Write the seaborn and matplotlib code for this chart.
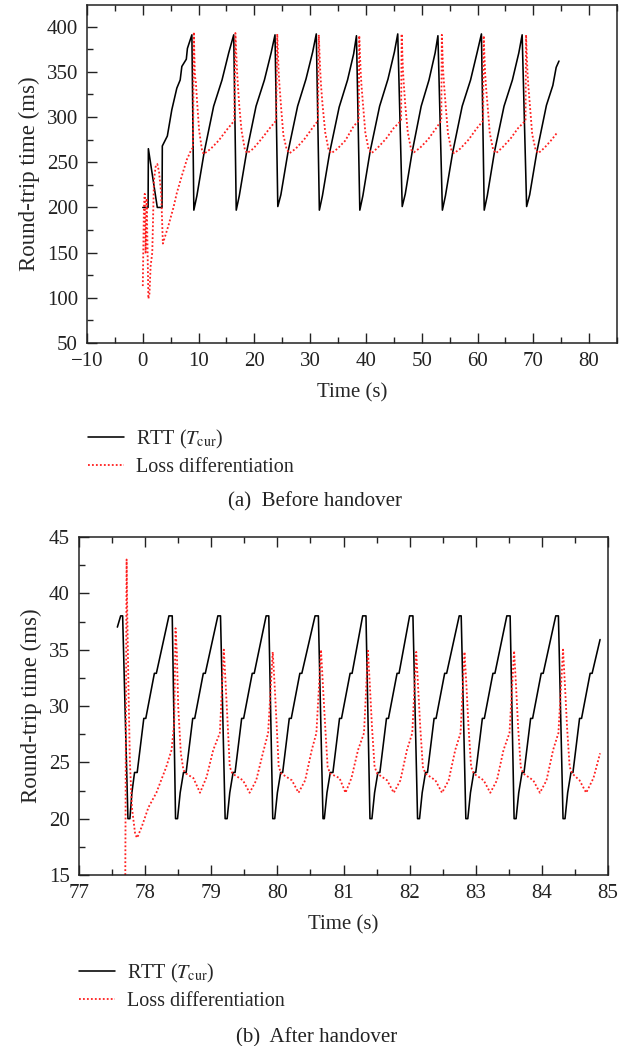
import matplotlib
matplotlib.use("Agg")
import matplotlib.pyplot as plt
from matplotlib.ticker import MultipleLocator
import seaborn as sns

# ---------------- (a) Before handover ----------------
top_rtt_t = [0.0, 0.95, 1.0, 2.6, 3.45, 3.5, 4.4, 5.2, 6.1, 6.7, 7.0, 7.8, 8.0, 8.8, 9.15,
             9.7, 11.0, 12.7, 14.2, 15.4, 16.3, 16.75,
             17.3, 18.6, 20.3, 21.8, 23.0, 23.7, 24.2,
             24.75, 26.05, 27.75, 29.25, 30.45, 31.1, 31.65,
             32.2, 33.5, 35.2, 36.7, 37.8, 38.3, 38.9,
             39.45, 40.75, 42.45, 43.95, 45.1, 45.7, 46.5,
             47.05, 48.3, 49.9, 51.3, 52.4, 52.9, 53.7,
             54.25, 55.55, 57.25, 58.75, 59.95, 60.7, 61.2,
             61.75, 63.05, 64.75, 66.25, 67.4, 68.0, 68.8,
             69.35, 70.65, 72.35, 73.5, 74.1, 74.6]
top_rtt_v = [200, 200, 265, 200, 200, 268, 279, 308, 332, 341, 356, 364, 376, 391, 197,
             213, 261, 312, 341, 371, 391, 197,
             213, 261, 312, 341, 371, 391, 201,
             214, 262, 312, 342, 372, 392, 197,
             213, 261, 311, 341, 370, 390, 197,
             213, 262, 312, 342, 372, 392, 201,
             215, 262, 312, 341, 371, 390, 197,
             213, 261, 312, 341, 372, 392, 197,
             213, 262, 312, 341, 371, 391, 201,
             214, 262, 313, 335, 355, 362]

top_loss_t = [0.0, 0.2, 0.35, 0.5, 0.7, 1.0, 1.2, 1.4, 1.7, 2.0, 2.3, 2.6, 2.9, 3.3, 3.6, 4.0,
              4.6, 5.5, 6.1, 7.0, 7.9, 8.7, 9.0,
              9.15, 9.35, 9.5, 9.7, 10.1, 10.6, 10.9, 12.2, 13.6, 15.2, 16.4,
              16.6, 16.9, 17.05, 17.3, 17.7, 18.3, 18.7, 19.8, 21.3, 22.8, 23.9,
              24.1, 24.35, 24.5, 24.8, 25.2, 25.8, 26.3, 27.4, 28.9, 30.3, 31.4,
              31.55, 31.8, 31.95, 32.2, 32.7, 33.3, 33.8, 34.9, 36.3, 37.8, 38.7,
              38.8, 39.05, 39.2, 39.5, 39.9, 40.5, 41.0, 42.1, 43.6, 45.0, 46.3,
              46.4, 46.65, 46.8, 47.05, 47.5, 48.1, 48.6, 49.7, 51.1, 52.5, 53.5,
              53.6, 53.85, 54.0, 54.3, 54.7, 55.3, 55.8, 56.9, 58.4, 59.8, 61.0,
              61.1, 61.35, 61.5, 61.8, 62.2, 62.8, 63.3, 64.4, 65.9, 67.3, 68.6,
              68.7, 68.95, 69.1, 69.4, 69.8, 70.4, 70.9, 72.0, 73.3, 74.3]
top_loss_v = [113, 200, 215, 150, 210, 99, 105, 135, 150, 230, 245, 248, 240, 215, 160, 168,
              180, 200, 216, 235, 253, 264, 266,
              394, 345, 340, 320, 285, 264, 259, 265, 274, 287, 296,
              393, 350, 335, 312, 285, 264, 260, 265, 276, 288, 296,
              392, 350, 335, 310, 280, 264, 260, 265, 275, 287, 296,
              391, 352, 335, 315, 283, 264, 260, 265, 274, 290, 296,
              390, 350, 335, 312, 282, 264, 260, 266, 276, 288, 296,
              392, 350, 335, 313, 283, 264, 261, 266, 275, 287, 296,
              391, 350, 336, 312, 282, 264, 260, 265, 275, 287, 296,
              390, 350, 335, 313, 282, 264, 260, 266, 276, 288, 296,
              391, 350, 335, 312, 281, 264, 260, 266, 275, 283]

# ---------------- (b) After handover ----------------
bot_rtt_t = [77.58, 77.63, 77.66,
             77.74, 77.77, 77.80, 77.84, 77.88, 77.98, 78.01, 78.14, 78.17, 78.36, 78.41,
             78.46, 78.49, 78.53, 78.58, 78.62, 78.72, 78.75, 78.88, 78.91, 79.10, 79.14,
             79.21, 79.24, 79.28, 79.33, 79.36, 79.46, 79.49, 79.62, 79.65, 79.83, 79.87,
             79.93, 79.96, 80.00, 80.05, 80.08, 80.18, 80.21, 80.34, 80.37, 80.57, 80.62,
             80.69, 80.71, 80.75, 80.80, 80.84, 80.94, 80.97, 81.10, 81.13, 81.29, 81.34,
             81.40, 81.43, 81.47, 81.52, 81.55, 81.65, 81.68, 81.81, 81.84, 82.00, 82.05,
             82.12, 82.15, 82.19, 82.24, 82.27, 82.37, 82.40, 82.53, 82.56, 82.75, 82.78,
             82.85, 82.88, 82.92, 82.97, 83.00, 83.10, 83.13, 83.26, 83.29, 83.47, 83.52,
             83.58, 83.61, 83.65, 83.70, 83.73, 83.83, 83.86, 83.99, 84.02, 84.21, 84.25,
             84.32, 84.35, 84.39, 84.44, 84.47, 84.57, 84.60, 84.73, 84.76, 84.88]
bot_rtt_v = [37.0, 38.0, 38.0,
             20.0, 20.0, 22.3, 24.1, 24.1, 28.9, 28.9, 32.9, 32.9, 38.0, 38.0,
             20.0, 20.0, 22.3, 24.1, 24.1, 28.9, 28.9, 32.9, 32.9, 38.0, 38.0,
             20.0, 20.0, 22.3, 24.1, 24.1, 28.9, 28.9, 32.9, 32.9, 38.0, 38.0,
             20.0, 20.0, 22.3, 24.1, 24.1, 28.9, 28.9, 32.9, 32.9, 38.0, 38.0,
             20.0, 20.0, 22.3, 24.1, 24.1, 28.9, 28.9, 32.9, 32.9, 38.0, 38.0,
             20.0, 20.0, 22.3, 24.1, 24.1, 28.9, 28.9, 32.9, 32.9, 38.0, 38.0,
             20.0, 20.0, 22.3, 24.1, 24.1, 28.9, 28.9, 32.9, 32.9, 38.0, 38.0,
             20.0, 20.0, 22.3, 24.1, 24.1, 28.9, 28.9, 32.9, 32.9, 38.0, 38.0,
             20.0, 20.0, 22.3, 24.1, 24.1, 28.9, 28.9, 32.9, 32.9, 38.0, 38.0,
             20.0, 20.0, 22.3, 24.1, 24.1, 28.9, 28.9, 32.9, 32.9, 35.9]

bot_loss_t = [77.70, 77.72, 77.73, 77.75, 77.77, 77.80, 77.85, 77.88, 77.95, 78.05, 78.17,
              78.32, 78.40, 78.44,
              78.46, 78.48, 78.50, 78.54, 78.58, 78.62, 78.73, 78.83, 78.93, 79.03, 79.13,
              79.19, 79.22, 79.25, 79.28, 79.32, 79.48, 79.58, 79.68, 79.78, 79.86,
              79.93, 79.96, 79.99, 80.02, 80.06, 80.22, 80.32, 80.42, 80.52, 80.59,
              80.66, 80.69, 80.72, 80.76, 80.80, 80.94, 81.03, 81.12, 81.22, 81.31,
              81.37, 81.40, 81.43, 81.47, 81.51, 81.66, 81.76, 81.86, 81.96, 82.04,
              82.10, 82.13, 82.16, 82.20, 82.24, 82.39, 82.49, 82.59, 82.69, 82.77,
              82.83, 82.86, 82.89, 82.93, 82.97, 83.12, 83.22, 83.32, 83.42, 83.51,
              83.58, 83.61, 83.64, 83.68, 83.72, 83.87, 83.97, 84.07, 84.17, 84.25,
              84.32, 84.35, 84.38, 84.42, 84.46, 84.57, 84.67, 84.78, 84.88]
bot_loss_v = [15.0, 43.0, 38.0, 31.0, 25.0, 21.0, 18.6, 18.3, 19.3, 21.0, 22.3,
              24.6, 26.1, 28.5,
              36.9, 34.7, 30.0, 25.8, 24.3, 24.0, 23.6, 22.3, 23.7, 26.1, 27.6,
              35.0, 31.7, 28.2, 24.6, 24.0, 23.4, 22.3, 23.4, 25.8, 27.6,
              34.8, 31.7, 28.2, 24.6, 24.0, 23.4, 22.3, 23.4, 26.1, 27.6,
              35.0, 31.7, 28.5, 24.6, 24.0, 23.6, 22.3, 23.6, 26.1, 27.6,
              34.9, 31.7, 28.2, 24.6, 24.0, 23.4, 22.3, 23.4, 26.1, 27.6,
              34.8, 31.5, 28.2, 24.6, 24.0, 23.4, 22.3, 23.4, 26.1, 27.6,
              34.8, 31.7, 28.2, 24.6, 24.0, 23.4, 22.3, 23.4, 26.1, 27.6,
              34.9, 31.7, 28.2, 24.6, 24.0, 23.4, 22.3, 23.4, 26.1, 27.6,
              35.0, 31.7, 28.2, 24.6, 24.0, 23.4, 22.3, 23.6, 25.8]

LABEL_RTT = r"RTT ($T_{\mathrm{cur}}$)"
LABEL_LOSS = "Loss differentiation"

sns.set_theme(style="ticks")
plt.rcParams['font.family'] = ['Liberation Serif', 'DejaVu Serif']
plt.rcParams['mathtext.fontset'] = 'stix'
plt.rcParams['axes.unicode_minus'] = True

W, H = 627, 1046
fig = plt.figure(figsize=(W / 100, H / 100), dpi=100)
ax1 = fig.add_axes([87 / W, 1 - 343 / H, (617 - 87) / W, (343 - 5) / H])
ax2 = fig.add_axes([79 / W, 1 - 875 / H, (608 - 79) / W, (875 - 537) / H])

RED = '#ff1f1f'
FS = 15


def draw(ax, t1, v1, t2, v2):
    sns.lineplot(x=t1, y=v1, ax=ax, color='black', lw=1.15, estimator=None,
                 sort=False, label=LABEL_RTT)
    sns.lineplot(x=t2, y=v2, ax=ax, color=RED, lw=1.3, linestyle=(0, (1, 1.2)),
                 estimator=None, sort=False, label=LABEL_LOSS)
    for s in ax.spines.values():
        s.set_color('#222222')
        s.set_linewidth(1.1)
    ax.tick_params(which='both', direction='in', top=True, right=False,
                   labelsize=FS, colors='#222222', width=1.0)
    ax.tick_params(which='major', length=7)
    ax.tick_params(which='minor', length=4)
    ax.tick_params(axis='x', which='both', pad=6.5)
    ax.tick_params(axis='y', which='both', pad=6.5)
    ax.set_xlabel('Time (s)', fontsize=FS, labelpad=8.5)
    ax.set_ylabel('Round-trip time (ms)', fontsize=16.5, labelpad=5)


draw(ax1, top_rtt_t, top_rtt_v, top_loss_t, top_loss_v)
ax1.set_xlim(-10, 85)
ax1.set_ylim(50, 424)
ax1.set_xticks(list(range(-10, 81, 10)))
ax1.set_yticks(list(range(50, 401, 50)))
ax1.xaxis.set_minor_locator(MultipleLocator(5))
ax1.yaxis.set_minor_locator(MultipleLocator(25))

draw(ax2, bot_rtt_t, bot_rtt_v, bot_loss_t, bot_loss_v)
ax2.set_xlim(77, 85)
ax2.set_ylim(15, 45)
ax2.set_xticks(list(range(77, 86)))
ax2.set_yticks(list(range(15, 46, 5)))
ax2.xaxis.set_minor_locator(MultipleLocator(0.5))
ax2.yaxis.set_minor_locator(MultipleLocator(2.5))

for ax, fx, fy in [(ax1, 88 / W, 1 - 428 / H), (ax2, 79 / W, 1 - 962 / H)]:
    ax.legend(loc='upper left', bbox_to_anchor=(fx, fy), bbox_transform=fig.transFigure,
              frameon=False, fontsize=FS - 0.5, handlelength=1.8, handletextpad=0.6,
              labelspacing=0.32, borderpad=0, borderaxespad=0)

fig.text(315 / W, 1 - 502 / H, '(a)  Before handover', ha='center', va='center',
         fontsize=FS, color='#222222')
fig.text(317 / W, 1 - 1038 / H, '(b)  After handover', ha='center', va='center',
         fontsize=FS, color='#222222')

fig.savefig('out.png', dpi=100)
